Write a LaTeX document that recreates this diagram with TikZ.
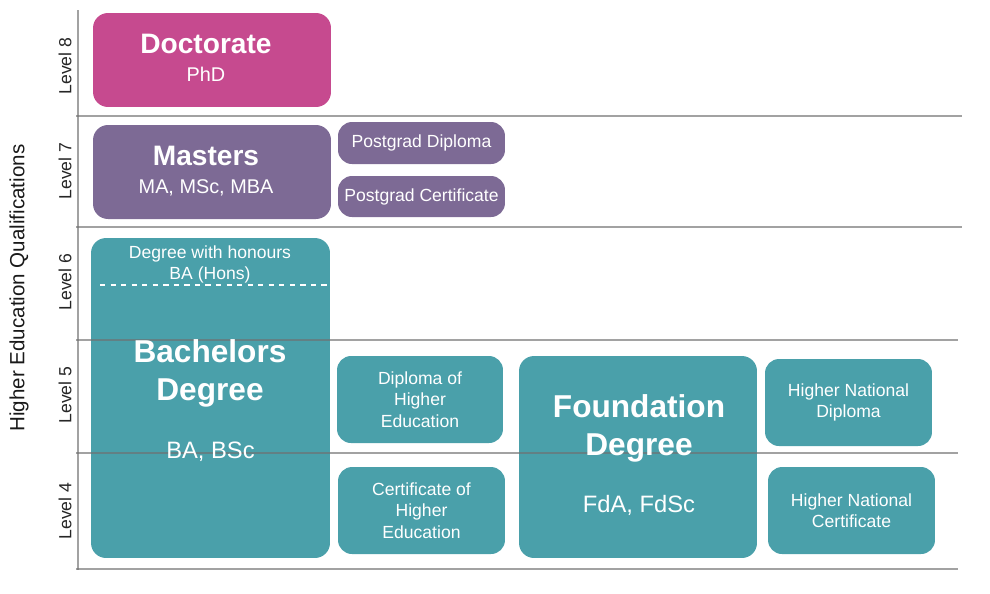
\documentclass[tikz,border=0pt]{standalone}
\usepackage{fontspec}
\setmainfont{Liberation Sans}
\usepackage{xcolor}
\definecolor{docpink}{HTML}{C64A8F}
\definecolor{maspurple}{HTML}{7D6A95}
\definecolor{heteal}{HTML}{4AA0AA}
\definecolor{gridgrey}{HTML}{707070}

\begin{document}
\begin{tikzpicture}[x=0.02cm,y=-0.02cm,
	box/.style={fill=#1, rounded corners=0.28cm, inner sep=0pt, text=white, align=center, font=\fontsize{10}{12.2}\selectfont},
	bigtitle/.style={text=white, align=center, inner sep=0pt, font=\bfseries\fontsize{18}{21.6}\selectfont},
	midtitle/.style={text=white, inner sep=0pt, font=\bfseries\fontsize{16}{19}\selectfont},
	quals/.style={text=white, inner sep=0pt, font=\fontsize{#1}{14}\selectfont},
	levellabel/.style={rotate=90, inner sep=0pt, text=black!85, font=\fontsize{10}{12}\selectfont},
	gridline/.style={gridgrey, opacity=0.65, line width=0.6pt}]
	\useasboundingbox (0,0) rectangle (990,593);

	\node[box=docpink, minimum width=4.76cm, minimum height=1.88cm, rounded corners=0.3cm] (doc) at (212,60) {};
	\node[box=maspurple, minimum width=4.76cm, minimum height=1.88cm, rounded corners=0.3cm] (mas) at (212,172) {};
	\node[box=maspurple, minimum width=3.34cm, minimum height=0.84cm] (pgd) at (421.5,143) {Postgrad Diploma};
	\node[box=maspurple, minimum width=3.34cm, minimum height=0.82cm] (pgc) at (421.5,196.5) {Postgrad Certificate};
	\node[box=heteal, minimum width=4.78cm, minimum height=6.4cm, rounded corners=0.3cm] (ba) at (210.5,398) {};
	\node[box=heteal, minimum width=3.32cm, minimum height=1.74cm] (dhe) at (420,399.5) {Diploma of\\Higher\\Education};
	\node[box=heteal, minimum width=3.34cm, minimum height=1.74cm] (che) at (421.5,510.5) {Certificate of\\Higher\\Education};
	\node[box=heteal, minimum width=4.76cm, minimum height=4.04cm, rounded corners=0.3cm] (fd) at (638,457) {};
	\node[box=heteal, minimum width=3.34cm, minimum height=1.74cm] (hnd) at (848.5,402.5) {Higher National\\Diploma};
	\node[box=heteal, minimum width=3.34cm, minimum height=1.74cm] (hnc) at (851.5,510.5) {Higher National\\Certificate};

	\draw[white, dashed, line width=0.6pt] (100,285) -- (328,285);

	\draw[gridline] (78,10) -- (78,570);
	\foreach \y/\e in {116/962, 227/962, 340/958, 453/958, 569/958}
		\draw[gridline] (76,\y) -- (\e,\y);

	\node[midtitle, anchor=base] (doctitle) at (206,53) {Doctorate};
	\node[quals=11.3, anchor=base] (docsub) at (206,81) {PhD};
	\node[midtitle, anchor=base] (mastitle) at (206,165) {Masters};
	\node[quals=11.3, anchor=base] (massub) at (206,193) {MA, MSc, MBA};
	\node[text=white, align=center, inner sep=0pt, font=\fontsize{10}{12}\selectfont] (hons) at (210,264) {Degree with honours\\BA (Hons)};
	\node[bigtitle] (batitle) at (210,373) {Bachelors\\Degree};
	\node[quals=13.5, anchor=base] (basub) at (210.5,458) {BA, BSc};
	\node[bigtitle] (fdtitle) at (639,428) {Foundation\\Degree};
	\node[quals=13.5, anchor=base] (fdsub) at (639,512) {FdA, FdSc};

	\node[levellabel] (lv8) at (65,66) {Level 8};
	\node[levellabel] (lv7) at (65,171) {Level 7};
	\node[levellabel] (lv6) at (65,282) {Level 6};
	\node[levellabel] (lv5) at (65,395) {Level 5};
	\node[levellabel] (lv4) at (65,511) {Level 4};
	\node[rotate=90, inner sep=0pt, text=black!90, font=\fontsize{11.7}{14}\selectfont] (heq) at (19,288) {Higher Education Qualifications};
\end{tikzpicture}
\end{document}
